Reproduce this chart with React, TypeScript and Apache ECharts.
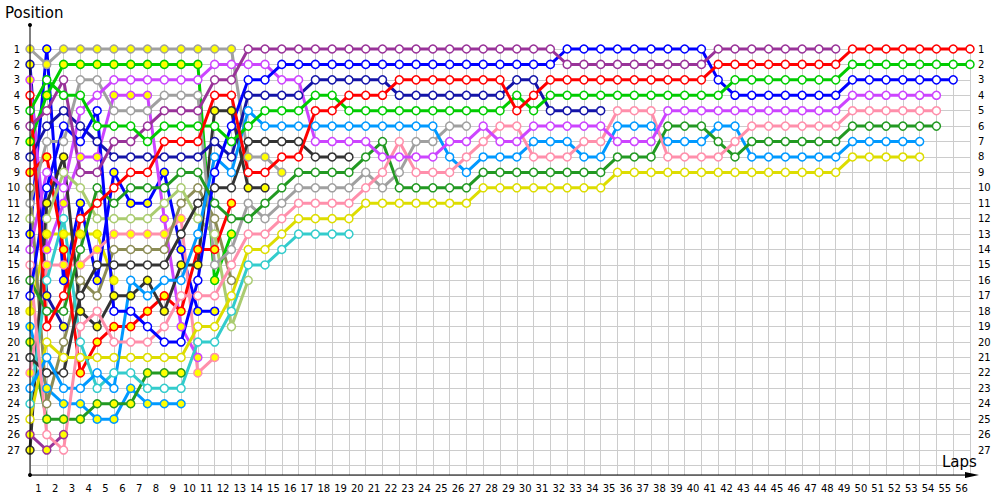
import React, { useEffect, useRef } from "react";
import * as echarts from "echarts";

// ---------- tick labels ----------
const lapLabels = [
  "1", "2", "3", "4", "5", "6", "7", "8", "9", "10", "11", "12", "13", "14",
  "15", "16", "17", "18", "19", "20", "21", "22", "23", "24", "25", "26", "27", "28",
  "29", "30", "31", "32", "33", "34", "35", "36", "37", "38", "39", "40", "41", "42",
  "43", "44", "45", "46", "47", "48", "49", "50", "51", "52", "53", "54", "55", "56",
];
const positionLabels = [
  1, 2, 3, 4, 5, 6, 7, 8, 9, 10, 11, 12, 13, 14, 15, 16, 17, 18, 19, 20, 21, 22, 23, 24, 25, 26, 27,
];

// ---------- drivers (team colour + marker fill: W = white, Y = yellow) ----------
const driverCodes = [
  "purpleY", "navyY", "yellowY", "skyY", "dgY", "blueY", "pinkY", "violetY", "oliveW",
  "redY", "greenY", "lgreenW", "blackY", "grayY", "cyanW", "blackW", "grayW", "navyW",
  "yellowW", "skyW", "dgW", "pinkW", "violetW", "blueW", "purpleW", "greenW", "redW",
];

// ---------- running order per lap (index 0 = position 1) ----------
const lap00 = ["grayY", "navyY", "violetY", "redW", "greenW", "purpleW", "greenY", "navyW", "redY", "oliveW", "grayW", "lgreenW", "blueY", "violetW", "pinkW", "dgW", "blueW", "yellowY", "skyY", "dgY", "blackW", "pinkY", "skyW", "cyanW", "yellowW", "purpleY", "blackY"];
const lap01 = ["blueY", "grayY", "greenW", "greenY", "purpleW", "navyW", "grayW", "redY", "violetW", "blueW", "blackY", "lgreenW", "yellowY", "violetY", "pinkY", "cyanW", "navyY", "dgW", "redW", "yellowW", "skyW", "blackW", "skyY", "oliveW", "dgY", "pinkW", "purpleY"];
const lap02 = ["grayY", "greenY", "purpleW", "greenW", "navyW", "blueW", "grayW", "blackY", "lgreenW", "violetW", "violetY", "cyanW", "yellowY", "redY", "pinkY", "blueY", "redW", "dgW", "navyY", "oliveW", "yellowW", "blackW", "skyW", "skyY", "dgY", "purpleY", "pinkW"];
const lap03 = ["grayY", "greenY", "grayW", "greenW", "violetW", "navyW", "blueW", "violetY", "purpleW", "lgreenW", "blueY", "redW", "yellowY", "dgW", "pinkY", "oliveW", "blackW", "blackY", "pinkW", "cyanW", "yellowW", "redY", "skyW", "skyY", "dgY"];
const lap04 = ["grayY", "greenY", "grayW", "violetW", "blueW", "greenW", "navyW", "violetY", "purpleW", "dgW", "redW", "lgreenW", "yellowY", "pinkY", "blackW", "blueY", "oliveW", "pinkW", "blackY", "redY", "yellowW", "skyW", "cyanW", "dgY", "skyY"];
const lap05 = ["grayY", "greenY", "violetW", "violetY", "grayW", "greenW", "purpleW", "navyW", "blueY", "redW", "dgW", "lgreenW", "pinkY", "oliveW", "blackW", "yellowY", "blackY", "blueW", "redY", "pinkW", "yellowW", "cyanW", "skyW", "dgY", "skyY"];
const lap06 = ["grayY", "greenY", "violetW", "violetY", "grayW", "greenW", "purpleW", "navyW", "redW", "dgW", "blueY", "lgreenW", "pinkY", "oliveW", "blackW", "skyW", "blackY", "blueW", "redY", "pinkW", "yellowW", "cyanW", "skyY", "dgY"];
const lap07 = ["grayY", "greenY", "violetW", "violetY", "grayW", "purpleW", "greenW", "navyW", "redW", "dgW", "blueY", "lgreenW", "pinkY", "oliveW", "blackW", "blackY", "skyW", "redY", "blueW", "pinkW", "yellowW", "dgY", "cyanW", "skyY"];
const lap08 = ["grayY", "greenY", "violetW", "grayW", "purpleW", "greenW", "redW", "navyW", "blueY", "dgW", "lgreenW", "violetY", "pinkY", "oliveW", "blackW", "skyW", "redY", "blackY", "pinkW", "blueW", "yellowW", "dgY", "cyanW", "skyY"];
const lap09 = ["grayY", "greenY", "violetW", "grayW", "purpleW", "greenW", "redW", "navyW", "dgW", "lgreenW", "oliveW", "pinkY", "blackW", "blueY", "blackY", "skyW", "pinkW", "redY", "violetY", "blueW", "yellowW", "dgY", "cyanW", "skyY"];
const lap10 = ["grayY", "greenY", "violetW", "grayW", "purpleW", "greenW", "redW", "navyW", "dgW", "oliveW", "blackW", "lgreenW", "skyW", "redY", "blackY", "blueW", "pinkW", "blueY", "yellowW", "cyanW", "violetY", "pinkY"];
const lap11 = ["grayY", "violetW", "purpleW", "redW", "blackY", "greenW", "navyW", "skyW", "blueW", "blackW", "dgW", "oliveW", "lgreenW", "redY", "grayW", "greenY", "pinkW", "blueY", "yellowW", "cyanW", "pinkY"];
const lap12 = ["grayY", "violetW", "purpleW", "redW", "blackY", "blueW", "greenW", "navyW", "skyW", "blackW", "redY", "dgW", "greenY", "grayW", "pinkW", "oliveW", "yellowW", "cyanW", "lgreenW"];
const lap13 = ["purpleW", "violetW", "blueW", "navyW", "skyW", "greenW", "blackW", "grayY", "redW", "blackY", "grayW", "dgW", "pinkW", "yellowW", "cyanW", "lgreenW"];
const lap14 = ["purpleW", "violetW", "blueW", "navyW", "greenW", "skyW", "blackW", "grayY", "redW", "blackY", "dgW", "grayW", "pinkW", "yellowW", "cyanW"];
const lap15 = ["purpleW", "blueW", "violetW", "navyW", "greenW", "skyW", "blackW", "redW", "grayY", "dgW", "grayW", "pinkW", "yellowW", "cyanW"];
const lap16 = ["purpleW", "blueW", "violetW", "navyW", "greenW", "skyW", "blackW", "redW", "dgW", "grayW", "pinkW", "yellowW", "cyanW"];
const lap17 = ["purpleW", "blueW", "navyW", "greenW", "redW", "skyW", "violetW", "blackW", "dgW", "grayW", "pinkW", "yellowW", "cyanW"];
const lap18 = ["purpleW", "blueW", "navyW", "greenW", "redW", "skyW", "violetW", "blackW", "dgW", "grayW", "pinkW", "yellowW", "cyanW"];
const lap19 = ["purpleW", "blueW", "navyW", "redW", "greenW", "skyW", "violetW", "blackW", "dgW", "grayW", "pinkW", "yellowW", "cyanW"];
const lap20 = ["purpleW", "blueW", "navyW", "redW", "greenW", "skyW", "violetW", "dgW", "grayW", "pinkW", "yellowW"];
const lap21 = ["purpleW", "blueW", "navyW", "redW", "greenW", "skyW", "dgW", "violetW", "pinkW", "grayW", "yellowW"];
const lap22 = ["purpleW", "blueW", "redW", "navyW", "greenW", "skyW", "pinkW", "violetW", "grayW", "dgW", "yellowW"];
const lap23 = ["purpleW", "blueW", "redW", "navyW", "greenW", "skyW", "grayW", "violetW", "pinkW", "dgW", "yellowW"];
const lap24 = ["purpleW", "blueW", "redW", "navyW", "greenW", "skyW", "grayW", "violetW", "pinkW", "dgW", "yellowW"];
const lap25 = ["purpleW", "blueW", "redW", "navyW", "greenW", "grayW", "violetW", "skyW", "pinkW", "dgW", "yellowW"];
const lap26 = ["purpleW", "blueW", "redW", "navyW", "greenW", "grayW", "violetW", "pinkW", "skyW", "dgW", "yellowW"];
const lap27 = ["purpleW", "blueW", "redW", "navyW", "greenW", "violetW", "pinkW", "skyW", "dgW", "yellowW"];
const lap28 = ["purpleW", "blueW", "redW", "navyW", "greenW", "pinkW", "violetW", "skyW", "dgW", "yellowW"];
const lap29 = ["purpleW", "blueW", "navyW", "greenW", "redW", "pinkW", "violetW", "skyW", "dgW", "yellowW"];
const lap30 = ["purpleW", "blueW", "navyW", "redW", "greenW", "violetW", "skyW", "pinkW", "dgW", "yellowW"];
const lap31 = ["purpleW", "blueW", "redW", "greenW", "navyW", "violetW", "skyW", "pinkW", "dgW", "yellowW"];
const lap32 = ["blueW", "purpleW", "redW", "greenW", "navyW", "violetW", "skyW", "pinkW", "dgW", "yellowW"];
const lap33 = ["blueW", "purpleW", "redW", "greenW", "navyW", "violetW", "pinkW", "skyW", "dgW", "yellowW"];
const lap34 = ["blueW", "purpleW", "redW", "greenW", "navyW", "violetW", "pinkW", "skyW", "dgW", "yellowW"];
const lap35 = ["blueW", "purpleW", "redW", "greenW", "pinkW", "skyW", "violetW", "dgW", "yellowW"];
const lap36 = ["blueW", "purpleW", "redW", "greenW", "pinkW", "skyW", "violetW", "dgW", "yellowW"];
const lap37 = ["blueW", "purpleW", "redW", "greenW", "pinkW", "skyW", "violetW", "dgW", "yellowW"];
const lap38 = ["blueW", "purpleW", "redW", "greenW", "violetW", "dgW", "skyW", "pinkW", "yellowW"];
const lap39 = ["blueW", "purpleW", "redW", "greenW", "violetW", "dgW", "skyW", "pinkW", "yellowW"];
const lap40 = ["blueW", "purpleW", "redW", "greenW", "violetW", "dgW", "skyW", "pinkW", "yellowW"];
const lap41 = ["purpleW", "redW", "blueW", "greenW", "violetW", "skyW", "dgW", "pinkW", "yellowW"];
const lap42 = ["purpleW", "redW", "greenW", "blueW", "violetW", "skyW", "pinkW", "dgW", "yellowW"];
const lap43 = ["purpleW", "redW", "greenW", "blueW", "violetW", "pinkW", "dgW", "skyW", "yellowW"];
const lap44 = ["purpleW", "redW", "greenW", "blueW", "violetW", "pinkW", "dgW", "skyW", "yellowW"];
const lap45 = ["purpleW", "redW", "greenW", "blueW", "violetW", "pinkW", "dgW", "skyW", "yellowW"];
const lap46 = ["purpleW", "redW", "greenW", "blueW", "violetW", "pinkW", "dgW", "skyW", "yellowW"];
const lap47 = ["purpleW", "redW", "greenW", "blueW", "violetW", "pinkW", "dgW", "skyW", "yellowW"];
const lap48 = ["purpleW", "redW", "greenW", "blueW", "violetW", "pinkW", "dgW", "skyW", "yellowW"];
const lap49 = ["redW", "greenW", "blueW", "violetW", "pinkW", "dgW", "skyW", "yellowW"];
const lap50 = ["redW", "greenW", "blueW", "violetW", "pinkW", "dgW", "skyW", "yellowW"];
const lap51 = ["redW", "greenW", "blueW", "violetW", "pinkW", "dgW", "skyW", "yellowW"];
const lap52 = ["redW", "greenW", "blueW", "violetW", "pinkW", "dgW", "skyW", "yellowW"];
const lap53 = ["redW", "greenW", "blueW", "violetW", "pinkW", "dgW", "skyW", "yellowW"];
const lap54 = ["redW", "greenW", "blueW", "violetW", "pinkW", "dgW"];
const lap55 = ["redW", "greenW", "blueW"];
const lap56 = ["redW", "greenW"];

const runningOrder = [
  lap00, lap01, lap02, lap03, lap04, lap05, lap06, lap07, lap08, lap09,
  lap10, lap11, lap12, lap13, lap14, lap15, lap16, lap17, lap18, lap19,
  lap20, lap21, lap22, lap23, lap24, lap25, lap26, lap27, lap28, lap29,
  lap30, lap31, lap32, lap33, lap34, lap35, lap36, lap37, lap38, lap39,
  lap40, lap41, lap42, lap43, lap44, lap45, lap46, lap47, lap48, lap49,
  lap50, lap51, lap52, lap53, lap54, lap55, lap56,
];

// ---------- styles ----------
const teamColors: Record<string, string> = {
  red: "#FF0000",
  green: "#00CC00",
  blue: "#0000FF",
  navy: "#1414A8",
  violet: "#CC44FF",
  purple: "#993399",
  pink: "#FF8FAB",
  dg: "#229922",
  sky: "#0099FF",
  yellow: "#DDDD00",
  gray: "#A0A0A0",
  black: "#333333",
  cyan: "#33CCCC",
  olive: "#8C8C55",
  lgreen: "#AACC70",
};
const fillColors: Record<string, string> = { W: "#FFFFFF", Y: "#FFFF00" };

function buildSeries() {
  return driverCodes.map((code) => {
    const team = code.slice(0, -1);
    const fill = fillColors[code.slice(-1)];
    const color = teamColors[team];
    const data: number[][] = [];
    runningOrder.forEach((order, lap) => {
      const idx = order.indexOf(code);
      if (idx >= 0) data.push([lap, idx + 1]);
    });
    return {
      name: code,
      type: "line",
      xAxisIndex: 0,
      yAxisIndex: 0,
      data,
      clip: false,
      silent: true,
      symbol: "circle",
      symbolSize: 8,
      showSymbol: true,
      showAllSymbol: true,
      lineStyle: { color, width: 3 },
      itemStyle: { color: fill, borderColor: color, borderWidth: 1.5 },
      emphasis: { disabled: true },
    };
  });
}

const posFormatter = (v: number) => (positionLabels.indexOf(v) >= 0 ? String(v) : "");

export default function App() {
  const ref = useRef<HTMLDivElement>(null);
  useEffect(() => {
    if (!ref.current) return;
    const chart = echarts.init(ref.current, null, { renderer: "svg" });
    const labelFont = { color: "#000000", fontSize: 10, fontFamily: "DejaVu Sans" };
    chart.setOption({
      animation: false,
      backgroundColor: "#FFFFFF",
      grid: { left: 30, right: 30, top: 49, bottom: 25, containLabel: false },
      xAxis: [
        {
          type: "value",
          min: 0,
          max: 56,
          interval: 1,
          axisLine: { show: false },
          axisTick: { show: false },
          axisLabel: { show: false },
          splitLine: { show: true, lineStyle: { color: "#CCCCCC", width: 1 } },
        },
        {
          type: "category",
          data: lapLabels,
          position: "bottom",
          boundaryGap: true,
          axisLine: { show: false },
          axisTick: { show: false },
          splitLine: { show: false },
          axisLabel: { ...labelFont, interval: 0, margin: 8 },
        },
      ],
      yAxis: [
        {
          type: "value",
          inverse: true,
          min: 1,
          max: 28.62,
          interval: 1,
          position: "left",
          axisLine: { show: false },
          axisTick: { show: false },
          splitLine: { show: true, lineStyle: { color: "#CCCCCC", width: 1 } },
          axisLabel: { ...labelFont, margin: 10, formatter: posFormatter, showMaxLabel: false },
        },
        {
          type: "value",
          inverse: true,
          min: 1,
          max: 28.62,
          interval: 1,
          position: "right",
          axisLine: { show: false },
          axisTick: { show: false },
          splitLine: { show: false },
          axisLabel: { ...labelFont, margin: 8, formatter: posFormatter, showMaxLabel: false },
        },
      ],
      graphic: [
        { type: "line", shape: { x1: 30, y1: 25, x2: 30, y2: 475 }, style: { stroke: "#000", lineWidth: 1 }, z: 100 },
        { type: "line", shape: { x1: 30, y1: 475, x2: 972, y2: 475 }, style: { stroke: "#000", lineWidth: 1 }, z: 100 },
        { type: "polygon", shape: { points: [[965, 472], [979, 475], [965, 478]] }, style: { fill: "#000" }, z: 100 },
        { type: "circle", shape: { cx: 30, cy: 25, r: 2 }, style: { fill: "#000" }, z: 100 },
        { type: "circle", shape: { cx: 30, cy: 475, r: 2 }, style: { fill: "#000" }, z: 100 },
        { type: "text", left: 5, top: 5, style: { text: "Position", fill: "#000", fontSize: 15, fontFamily: "DejaVu Sans" }, z: 100 },
        { type: "text", left: 942, top: 454, style: { text: "Laps", fill: "#000", fontSize: 15, fontFamily: "DejaVu Sans" }, z: 100 },
      ],
      series: buildSeries(),
    });
    return () => chart.dispose();
  }, []);
  return (
    <div
      ref={ref}
      style={{ position: "fixed", left: 0, top: 0, width: 1000, height: 500, background: "#FFFFFF" }}
    />
  );
}
